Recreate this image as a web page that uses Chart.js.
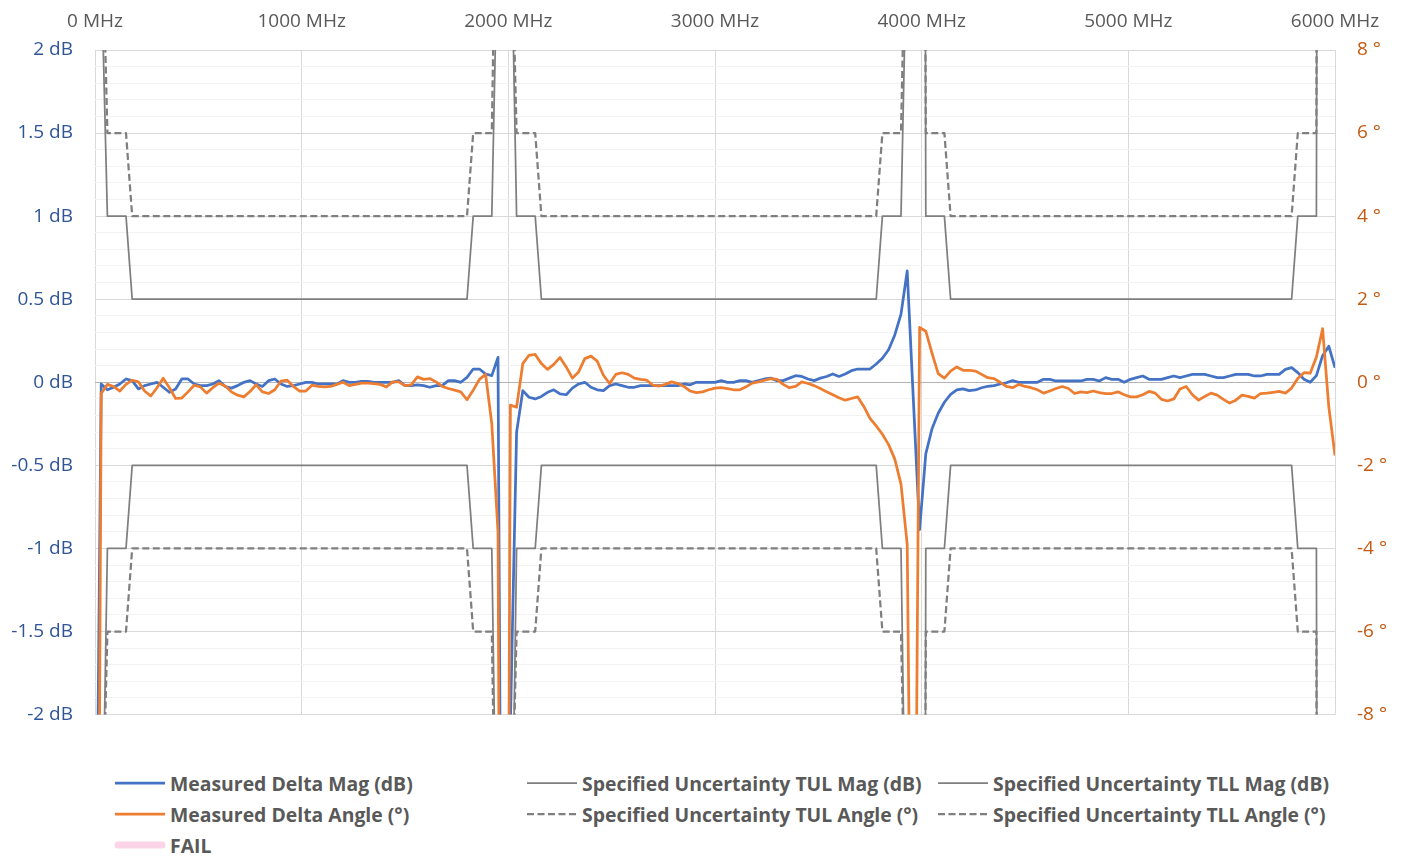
<!DOCTYPE html>
<html>
<head>
<meta charset="utf-8">
<script src="https://cdn.jsdelivr.net/npm/chart.js@4.4.1/dist/chart.umd.min.js"></script>
<style>
    body { margin: 0; background: #fff; width: 1405px; height: 857px; overflow: hidden; position: relative; font-family: 'Open Sans', sans-serif; }
    #wrap { position: absolute; left: 0; top: 0; width: 1405px; height: 748px; }
    .legend-item { position: absolute; height: 26px; display: flex; align-items: center; }
    .legend-item svg { display: block; }
    .legend-label { font-weight: 700; font-size: 19.4px; color: #595959; white-space: nowrap; margin-left: 3px; }
</style>
</head>
<body>
<div id="wrap"><canvas id="chart" width="1405" height="748"></canvas></div>
<div id="legend"></div>
<script>
// frequency points of the measurement (MHz)
const freqMHz = [
    0, 30, 60, 90, 120, 150, 180, 210, 240, 270,
    300, 330, 360, 390, 420, 450, 480, 510, 540, 570,
    600, 630, 660, 690, 720, 750, 780, 810, 840, 870,
    900, 930, 960, 990, 1020, 1050, 1080, 1110, 1140, 1170,
    1200, 1230, 1260, 1290, 1320, 1350, 1380, 1410, 1440, 1470,
    1500, 1530, 1560, 1590, 1620, 1650, 1680, 1710, 1740, 1770,
    1800, 1830, 1860, 1890, 1920, 1950, 1980, 2010, 2040, 2070,
    2100, 2130, 2160, 2190, 2220, 2250, 2280, 2310, 2340, 2370,
    2400, 2430, 2460, 2490, 2520, 2550, 2580, 2610, 2640, 2670,
    2700, 2730, 2760, 2790, 2820, 2850, 2880, 2910, 2940, 2970,
    3000, 3030, 3060, 3090, 3120, 3150, 3180, 3210, 3240, 3270,
    3300, 3330, 3360, 3390, 3420, 3450, 3480, 3510, 3540, 3570,
    3600, 3630, 3660, 3690, 3720, 3750, 3780, 3810, 3840, 3870,
    3900, 3930, 3960, 3990, 4020, 4050, 4080, 4110, 4140, 4170,
    4200, 4230, 4260, 4290, 4320, 4350, 4380, 4410, 4440, 4470,
    4500, 4530, 4560, 4590, 4620, 4650, 4680, 4710, 4740, 4770,
    4800, 4830, 4860, 4890, 4920, 4950, 4980, 5010, 5040, 5070,
    5100, 5130, 5160, 5190, 5220, 5250, 5280, 5310, 5340, 5370,
    5400, 5430, 5460, 5490, 5520, 5550, 5580, 5610, 5640, 5670,
    5700, 5730, 5760, 5790, 5820, 5850, 5880, 5910, 5940, 5970,
    6000
];

// Measured Delta Mag (dB)
const deltaMag = [
    -4, -0.01, -0.045, -0.03, -0.01, 0.02, 0.01, -0.04, -0.02, -0.01,
    0, -0.03, -0.06, -0.04, 0.02, 0.02, -0.01, -0.02, -0.02, -0.01,
    0.01, -0.025, -0.035, -0.02, 0, 0.01, -0.01, -0.025, 0.01, 0.02,
    -0.01, -0.025, -0.02, -0.01, 0, 0, -0.01, -0.01, -0.01, -0.01,
    0.01, 0, 0, 0.005, 0.005, 0, 0, 0, 0, 0.01,
    -0.02, -0.02, -0.015, -0.02, -0.03, -0.02, -0.02, 0.01, 0.01, 0,
    0.03, 0.08, 0.08, 0.05, 0.04, 0.15, -6.6, -2.05, -0.3, -0.05,
    -0.09, -0.1, -0.085, -0.06, -0.045, -0.07, -0.075, -0.035, -0.01, 0,
    -0.03, -0.045, -0.05, -0.02, -0.01, -0.02, -0.03, -0.03, -0.02, -0.02,
    -0.02, -0.02, -0.02, -0.02, -0.02, -0.01, -0.015, 0, 0, 0,
    0, 0.01, 0, 0, 0.01, 0.01, 0, 0.01, 0.02, 0.025,
    0.01, 0.01, 0.025, 0.04, 0.035, 0.02, 0.01, 0.025, 0.035, 0.05,
    0.035, 0.05, 0.07, 0.08, 0.08, 0.08, 0.11, 0.145, 0.196, 0.285,
    0.41, 0.67, -0.11, -0.886, -0.43, -0.28, -0.186, -0.12, -0.073, -0.046,
    -0.04, -0.05, -0.046, -0.033, -0.024, -0.02, -0.01, -0.003, 0.01, 0,
    0, 0, 0, 0.018, 0.018, 0.008, 0.008, 0.008, 0.008, 0.008,
    0.018, 0.018, 0.008, 0.028, 0.018, 0.018, 0, 0.018, 0.028, 0.038,
    0.018, 0.018, 0.018, 0.028, 0.038, 0.028, 0.038, 0.048, 0.048, 0.048,
    0.038, 0.028, 0.028, 0.038, 0.048, 0.048, 0.048, 0.038, 0.038, 0.048,
    0.048, 0.048, 0.078, 0.088, 0.058, 0.018, 0, 0.04, 0.16, 0.217,
    0.088
];

// Measured Delta Angle (deg)
const deltaAngle = [
    -30, -0.27, -0.05, -0.1, -0.21, -0.05, 0.05, 0.01, -0.21, -0.33,
    -0.13, 0.1, -0.13, -0.39, -0.38, -0.23, -0.07, -0.11, -0.26, -0.13,
    -0.02, -0.09, -0.23, -0.31, -0.35, -0.22, -0.06, -0.23, -0.27, -0.18,
    0.03, 0.05, -0.1, -0.21, -0.21, -0.07, -0.1, -0.11, -0.1, -0.05,
    0, -0.08, -0.05, -0.02, -0.02, -0.03, -0.05, -0.11, 0.01, 0.01,
    -0.08, -0.06, 0.13, 0.07, 0.09, 0.01, -0.1, -0.15, -0.19, -0.23,
    -0.42, -0.19, 0.07, 0.19, -1.0, -3.6, -35, -0.55, -0.6, 0.45,
    0.65, 0.67, 0.45, 0.31, 0.43, 0.6, 0.37, 0.1, 0.25, 0.57,
    0.63, 0.51, 0.17, -0.03, 0.19, 0.23, 0.19, 0.1, 0.07, 0.05,
    -0.07, -0.09, -0.05, 0.01, -0.03, -0.1, -0.21, -0.25, -0.23, -0.18,
    -0.14, -0.13, -0.15, -0.18, -0.18, -0.11, -0.02, 0.01, 0.05, 0.09,
    0.07, -0.05, -0.13, -0.1, 0.01, -0.03, -0.08, -0.15, -0.23, -0.3,
    -0.37, -0.43, -0.39, -0.35, -0.58, -0.87, -1.05, -1.25, -1.5, -1.85,
    -2.45, -3.9, -18.5, 1.32, 1.23, 0.7, 0.21, 0.1, 0.27, 0.37,
    0.29, 0.29, 0.27, 0.19, 0.11, 0.09, 0, -0.1, -0.13, -0.05,
    -0.1, -0.13, -0.18, -0.26, -0.21, -0.15, -0.1, -0.15, -0.27, -0.23,
    -0.25, -0.21, -0.25, -0.27, -0.27, -0.23, -0.3, -0.35, -0.35, -0.3,
    -0.22, -0.26, -0.41, -0.45, -0.4, -0.16, -0.1, -0.3, -0.43, -0.34,
    -0.26, -0.31, -0.41, -0.5, -0.43, -0.31, -0.34, -0.38, -0.27, -0.26,
    -0.24, -0.22, -0.26, -0.14, 0.09, 0.23, 0.22, 0.61, 1.29, -0.59,
    -1.76
];

// specified uncertainty limits, given at their break frequencies (MHz)
const limitFreqMHz = [0, 30, 60, 150, 180, 1800, 1830, 1920, 1950, 1980, 2010, 2040, 2130, 2160,
    3780, 3810, 3900, 3930, 3960, 3990, 4020, 4110, 4140, 5790, 5820, 5910, 5940, 6000];
const tulMag = [3, 2.5, 1, 1, 0.5, 0.5, 1, 1, 2.8, 3, 3, 1, 1, 0.5,
    0.5, 1, 1, 2.8, 20, 20, 1, 1, 0.5, 0.5, 1, 1, 20, 20];
const tllMag = [-3, -3.2, -1, -1, -0.5, -0.5, -1, -1, -3.5, -3.5, -3.5, -1, -1, -0.5,
    -0.5, -1, -1, -3.5, -20, -20, -1, -1, -0.5, -0.5, -1, -1, -20, -20];
const tulAngle = [12, 12, 6, 6, 4, 4, 6, 6, 15, 15, 12, 6, 6, 4,
    4, 6, 6, 13, 50, 50, 6, 6, 4, 4, 6, 6, 100, 100];
const tllAngle = [-12, -12, -6, -6, -4, -4, -6, -6, -15, -15, -12, -6, -6, -4,
    -4, -6, -6, -13, -50, -50, -6, -6, -4, -4, -6, -6, -100, -100];
const failPoints = [];   // no failing points

// axis ticks
const freqTicks = [0, 1000, 2000, 3000, 4000, 5000, 6000];
const magTicks = [-2, -1.5, -1, -0.5, 0, 0.5, 1, 1.5, 2];
const angleTicks = [-8, -6, -4, -2, 0, 2, 4, 6, 8];

const FONT = "'Open Sans', sans-serif";
const GRAY = '#7f7f7f';

function pairs(xs, ys) {
    return xs.map((x, i) => ({ x: x, y: ys[i] }));
}

// minor gridlines every 0.1 dB between the labelled ticks
const magGrid = [];
for (let i = -20; i <= 20; i++) magGrid.push(i / 10);

function isMajor(v) {
    return magTicks.some(t => Math.abs(t - v) < 1e-6);
}

const datasets = [
    { label: 'Measured Delta Angle (°)', data: pairs(freqMHz, deltaAngle), yAxisID: 'yAng',
      borderColor: '#ed7d31', borderWidth: 2.75, order: 1 },
    { label: 'Measured Delta Mag (dB)', data: pairs(freqMHz, deltaMag), yAxisID: 'yMag',
      borderColor: '#4472c4', borderWidth: 2.75, order: 2 },
    { label: 'Specified Uncertainty TUL Angle (°)', data: pairs(limitFreqMHz, tulAngle), yAxisID: 'yAng',
      borderColor: GRAY, borderWidth: 2.25, borderDash: [7, 3.5], order: 3 },
    { label: 'Specified Uncertainty TLL Angle (°)', data: pairs(limitFreqMHz, tllAngle), yAxisID: 'yAng',
      borderColor: GRAY, borderWidth: 2.25, borderDash: [7, 3.5], order: 3 },
    { label: 'Specified Uncertainty TUL Mag (dB)', data: pairs(limitFreqMHz, tulMag), yAxisID: 'yMag',
      borderColor: GRAY, borderWidth: 1.75, order: 4 },
    { label: 'Specified Uncertainty TLL Mag (dB)', data: pairs(limitFreqMHz, tllMag), yAxisID: 'yMag',
      borderColor: GRAY, borderWidth: 1.75, order: 4 },
    { label: 'FAIL', data: failPoints, yAxisID: 'yMag',
      borderColor: '#fbd4e8', borderWidth: 7, borderCapStyle: 'round', order: 5 }
];
datasets.forEach(ds => {
    ds.pointRadius = 0;
    ds.fill = false;
    ds.tension = 0;
    ds.borderJoinStyle = 'round';
});

const chart = new Chart(document.getElementById('chart').getContext('2d'), {
    type: 'line',
    data: { datasets: datasets },
    options: {
        responsive: false,
        animation: false,
        events: [],
        layout: { padding: { left: 0, right: 0, top: 0, bottom: 6 } },
        plugins: { legend: { display: false }, tooltip: { enabled: false } },
        scales: {
            x: {
                type: 'linear', position: 'top', min: 0, max: 6000,
                afterBuildTicks: s => { s.ticks = freqTicks.map(v => ({ value: v })); },
                afterFit: s => { s.height = 50; },
                ticks: { color: '#595959', font: { family: FONT, size: 19 }, padding: 17,
                         maxRotation: 0, autoSkip: false, callback: v => v + ' MHz' },
                grid: { color: '#d9d9d9', lineWidth: 1, drawTicks: false },
                border: { display: false }
            },
            yMag: {
                type: 'linear', position: 'left', min: -2, max: 2,
                afterBuildTicks: s => { s.ticks = magGrid.map(v => ({ value: v })); },
                afterFit: s => { s.width = 95; },
                ticks: { color: '#2f5597', font: { family: FONT, size: 19 }, padding: 22, autoSkip: false,
                         callback: v => isMajor(v) ? Number(v.toFixed(1)) + ' dB' : '' },
                grid: {
                    drawTicks: false, lineWidth: 1,
                    color: c => {
                        const v = c.tick.value;
                        if (Math.abs(v) < 1e-6) return '#b4b4b4';
                        return isMajor(v) ? '#d9d9d9' : '#f2f2f2';
                    }
                },
                border: { display: false }
            },
            yAng: {
                type: 'linear', position: 'right', min: -8, max: 8,
                afterBuildTicks: s => { s.ticks = angleTicks.map(v => ({ value: v })); },
                afterFit: s => { s.width = 70; },
                ticks: { color: '#c55a11', font: { family: FONT, size: 19 }, padding: 22, autoSkip: false,
                         callback: v => v + ' °' },
                grid: { display: false, drawTicks: false },
                border: { display: false }
            }
        }
    }
});

// legend in the same three-column arrangement as the spreadsheet chart
const legendSlots = [
    { label: 'Measured Delta Mag (dB)', col: 0, row: 0 },
    { label: 'Specified Uncertainty TUL Mag (dB)', col: 1, row: 0 },
    { label: 'Specified Uncertainty TLL Mag (dB)', col: 2, row: 0 },
    { label: 'Measured Delta Angle (°)', col: 0, row: 1 },
    { label: 'Specified Uncertainty TUL Angle (°)', col: 1, row: 1 },
    { label: 'Specified Uncertainty TLL Angle (°)', col: 2, row: 1 },
    { label: 'FAIL', col: 0, row: 2 }
];
const colX = [113, 525, 936];
const rowY = [783, 814, 845];
const legendEl = document.getElementById('legend');
legendSlots.forEach(slot => {
    const ds = chart.data.datasets.find(d => d.label === slot.label);
    const item = document.createElement('div');
    item.className = 'legend-item';
    item.style.left = colX[slot.col] + 'px';
    item.style.top = (rowY[slot.row] - 13) + 'px';
    const dash = ds.borderDash ? ds.borderDash.join(' ') : 'none';
    const cap = ds.borderCapStyle === 'round' ? 'round' : 'butt';
    const inset = cap === 'round' ? 3 : 0;
    item.innerHTML =
        `<svg width="54" height="26"><line x1="${2 + inset}" y1="13" x2="${52 - inset}" y2="13" ` +
        `stroke="${ds.borderColor}" stroke-width="${Math.min(ds.borderWidth, 7)}" ` +
        `stroke-dasharray="${dash}" stroke-linecap="${cap}"/></svg>` +
        `<span class="legend-label">${slot.label}</span>`;
    legendEl.appendChild(item);
});
</script>
</body>
</html>
